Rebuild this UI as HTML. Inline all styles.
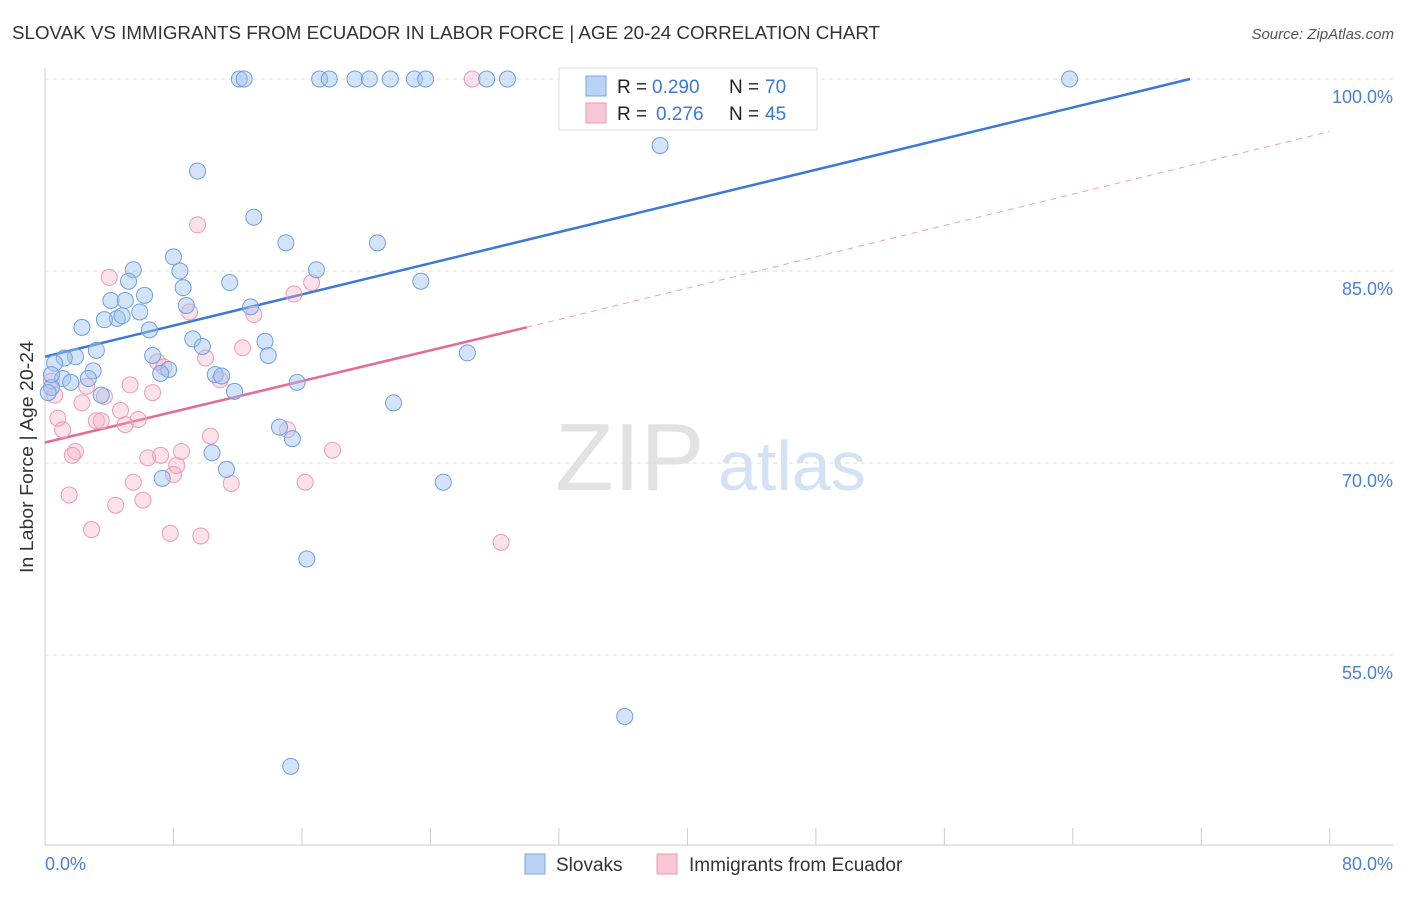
<!DOCTYPE html>
<html><head><meta charset="utf-8">
<style>
body{margin:0;background:#fff;font-family:"Liberation Sans",sans-serif;}
svg text{font-family:"Liberation Sans",sans-serif;}
</style></head>
<body>
<svg id="chart" width="1406" height="892" viewBox="0 0 1406 892" xmlns="http://www.w3.org/2000/svg">
<text x="12" y="39" font-size="18" fill="#333" textLength="868" lengthAdjust="spacingAndGlyphs">SLOVAK VS IMMIGRANTS FROM ECUADOR IN LABOR FORCE | AGE 20-24 CORRELATION CHART</text>
<text x="1394" y="39" font-size="15" fill="#555" text-anchor="end" font-style="italic">Source: ZipAtlas.com</text>
<g>
<text x="555" y="490" font-size="96" fill="#e2e2e2" font-family="Liberation Serif, serif">ZIP</text>
<text x="718" y="490" font-size="70" fill="#d4e2f5">atlas</text>
</g>
<g id="grid"></g>
<g id="axes"></g>
<text transform="translate(33,457) rotate(-90)" font-size="18" fill="#333" text-anchor="middle" textLength="232" lengthAdjust="spacingAndGlyphs">In Labor Force | Age 20-24</text>
<g id="lines"></g>
<g id="pts"></g>
<g>
<rect x="559" y="68" width="258" height="62" fill="#fff" stroke="#ddd"/>
<rect x="586" y="76" width="20" height="20" fill="#b9d3f5" stroke="#7aa6e3"/>
<rect x="586" y="103" width="20" height="20" fill="#f8c6d5" stroke="#eb9bb4"/>
<text x="617" y="93" font-size="19" fill="#222">R =</text>
<text x="652" y="93" font-size="19" fill="#3b78d8">0.290</text>
<text x="729" y="93" font-size="19" fill="#222">N =</text>
<text x="765" y="93" font-size="19" fill="#3b78d8">70</text>
<text x="617" y="120" font-size="19" fill="#222">R =</text>
<text x="656" y="120" font-size="19" fill="#3b78d8">0.276</text>
<text x="729" y="120" font-size="19" fill="#222">N =</text>
<text x="765" y="120" font-size="19" fill="#3b78d8">45</text>
</g>
<g>
<rect x="525" y="854" width="20" height="20" fill="#b9d3f5" stroke="#7aa6e3"/>
<text x="556" y="871" font-size="19" fill="#333">Slovaks</text>
<rect x="657" y="854" width="20" height="20" fill="#f8c6d5" stroke="#eb9bb4"/>
<text x="689" y="871" font-size="19" fill="#333">Immigrants from Ecuador</text>
</g>
</svg>
<script>
const yTicks=[100,85,70,55];
const yTickLabels=["100.0%","85.0%","70.0%","55.0%"];
const xTicks=[0,8,16,24,32,40,48,56,64,72,80];
const blueX=[12.1,12.4,17.1,17.7,19.3,20.2,21.5,23.0,23.7,27.5,28.8,63.8,38.3,9.5,13.0,15.0,20.7,8.0,5.5,8.4,16.9,5.2,11.5,23.4,8.6,6.2,4.1,5.0,8.8,12.8,5.9,4.5,3.7,4.8,2.3,6.5,9.2,13.7,9.8,3.2,1.9,1.2,6.7,13.9,26.3,0.6,3.0,7.7,7.2,10.6,11.0,1.1,2.7,1.6,15.7,11.8,0.4,3.5,21.7,14.6,15.4,10.4,11.3,7.3,24.8,16.3,36.1,15.3,0.4,0.2];
const blueY=[100,100,100,100,100,100,100,100,100,100,100,100,94.8,92.8,89.2,87.2,87.2,86.1,85.1,85.0,85.1,84.2,84.1,84.2,83.7,83.1,82.7,82.7,82.3,82.2,81.8,81.3,81.2,81.5,80.6,80.4,79.7,79.5,79.1,78.8,78.3,78.2,78.4,78.4,78.6,77.8,77.2,77.3,77.0,76.9,76.8,76.6,76.6,76.3,76.3,75.6,75.9,75.3,74.7,72.8,71.9,70.8,69.5,68.8,68.5,62.5,50.2,46.3,76.9,75.5];
const pinkX=[26.6,9.5,4.0,16.6,15.5,9.0,13.0,12.3,10.0,7.0,7.4,5.3,2.6,0.4,10.9,6.7,3.7,0.6,2.3,4.7,0.8,5.8,3.2,3.5,5.0,1.1,10.3,8.5,1.9,1.7,6.4,7.2,8.2,8.0,17.9,15.1,5.5,11.6,16.2,6.1,1.5,4.4,2.9,7.8,9.7,28.4];
const pinkY=[100,88.6,84.5,84.1,83.2,81.8,81.6,79.0,78.2,77.9,77.5,76.1,76.0,76.4,76.5,75.5,75.2,75.3,74.7,74.1,73.5,73.4,73.3,73.3,73.0,72.6,72.1,70.9,70.9,70.6,70.4,70.6,69.8,69.1,71.0,72.6,68.5,68.4,68.5,67.1,67.5,66.7,64.8,64.5,64.3,63.8];
const blueLine=[0,78.3,71.3,100];
const pinkLine=[0,71.6,30,80.6,80,95.9];
const NS="http://www.w3.org/2000/svg";
const sx=v=>45+v*16.06, sy=v=>79+(100-v)*12.8;
function mk(t,a,p){const e=document.createElementNS(NS,t);for(const k in a)e.setAttribute(k,a[k]);p.appendChild(e);return e;}
const grid=document.getElementById('grid'),axes=document.getElementById('axes');
yTicks.forEach((v,i)=>{
 const l=mk('line',{x1:45,x2:1393,y1:sy(v),y2:sy(v),stroke:'#ddd','stroke-dasharray':'4,4'},grid);
 
 
 const t=mk('text',{x:1393,y:sy(v)+24,'font-size':18,fill:'#4a7fd6','text-anchor':'end'},axes);
 t.textContent=yTickLabels[i];
 
 
});
mk('line',{x1:45,x2:45,y1:68,y2:845,stroke:'#ccc'},axes);
mk('line',{x1:45,x2:1393,y1:845,y2:845,stroke:'#ccc'},axes);
xTicks.forEach(v=>{const t=mk('line',{x1:sx(v),x2:sx(v),y1:828,y2:845,stroke:'#ccc'},axes);
 
 });
const x0=mk('text',{x:45,y:870,'font-size':18,fill:'#4a7fd6'},axes);x0.textContent='0.0%';


const x1=mk('text',{x:1393,y:870,'font-size':18,fill:'#4a7fd6','text-anchor':'end'},axes);x1.textContent='80.0%';


const lines=document.getElementById('lines');
const bl=mk('line',{x1:sx(blueLine[0]),y1:sy(blueLine[1]),x2:sx(blueLine[2]),y2:sy(blueLine[3]),stroke:'#3b78d8','stroke-width':2.5},lines);


const pl=mk('line',{x1:sx(pinkLine[0]),y1:sy(pinkLine[1]),x2:sx(pinkLine[2]),y2:sy(pinkLine[3]),stroke:'#e56b95','stroke-width':2.5},lines);


const pd=mk('line',{x1:sx(pinkLine[2]),y1:sy(pinkLine[3]),x2:sx(pinkLine[4]),y2:sy(pinkLine[5]),stroke:'#eaa0b8','stroke-width':1,'stroke-dasharray':'6,5'},lines);


const pts=document.getElementById('pts');
pinkX.forEach((v,i)=>{const c=mk('circle',{cx:sx(v),cy:sy(pinkY[i]),r:8,fill:'rgba(244,170,195,0.35)',stroke:'#eb9bb4','stroke-width':1},pts);
 
 });
blueX.forEach((v,i)=>{const c=mk('circle',{cx:sx(v),cy:sy(blueY[i]),r:8,fill:'rgba(160,195,240,0.45)',stroke:'#6f9fe0','stroke-width':1},pts);
 
 });
</script>
</body></html>
